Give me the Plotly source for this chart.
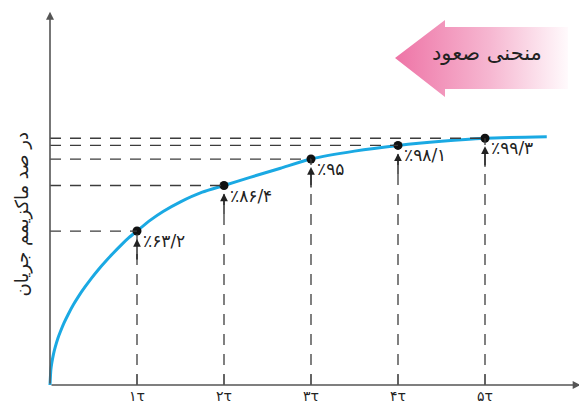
import plotly.graph_objects as go

# curve (t in units of tau, level in percent)
curve_t = [0, 0.01, 0.02, 0.04, 0.06, 0.09, 0.12, 0.16, 0.21, 0.27, 0.33, 0.4,
           0.48, 0.56, 0.63, 0.72, 0.82, 0.91, 1.0, 1.15, 1.3, 1.5, 1.75, 2.0,
           2.3, 2.65, 3.0, 3.5, 4.0, 4.5, 5.0, 5.71]
curve_y = [0, 6.2, 8.8, 12.5, 15.3, 18.8, 21.6, 25.0, 28.6, 32.5, 35.9, 39.5,
           43.3, 46.8, 49.6, 53.0, 56.6, 59.6, 62.2, 66.5, 70.1, 74.0, 77.9, 80.6,
           83.9, 87.6, 91.3, 94.5, 96.8, 98.5, 99.7, 100.3]

# marked points
tau_t = [1, 2, 3, 4, 5]
tau_level = [62.2, 80.6, 91.3, 96.8, 99.7]
pct_labels = ["٪۶۳/۲", "٪۸۶/۴", "٪۹۵", "٪۹۸/۱", "٪۹۹/۳"]
tick_labels = ["۱τ", "۲τ", "۳τ", "۴τ", "۵τ"]

y_title = "در صد ماکزیمم جریان"
banner_text = "منحنی صعود"

FONT = "DejaVu Sans"
AXIS = "#555555"
DASH = "#3c3c3c"
OFF = 8  # page body margin

fig = go.Figure()

# pink banner arrow, drawn on a pixel overlay axis pair
arrow_x = [395, 445, 445, 568, 568, 445, 445, 395]
arrow_y = [58, 20, 27, 27, 89, 89, 97, 58]
fig.add_trace(go.Scatter(
    x=arrow_x, y=arrow_y, xaxis="x2", yaxis="y2", mode="lines",
    fill="toself", line=dict(width=0),
    fillgradient=dict(type="horizontal",
                      colorscale=[[0, "#ee74a6"], [0.55, "#f6b7d1"], [1, "#fffafc"]]),
    hoverinfo="skip", showlegend=False))

# the curve
fig.add_trace(go.Scatter(
    x=curve_t, y=curve_y, mode="lines",
    line=dict(color="#1aa9e3", width=3, shape="spline", smoothing=0.6),
    hoverinfo="skip", showlegend=False))

# dashed guides
for t, v in zip(tau_t, tau_level):
    fig.add_shape(type="line", x0=0, x1=t, y0=v, y1=v,
                  line=dict(color=DASH, width=1.3, dash="11px,9px"))
    fig.add_shape(type="line", x0=t, x1=t, y0=0, y1=v,
                  line=dict(color=DASH, width=1.3, dash="11px,9px"))
    # tick on x axis
    fig.add_shape(type="line", x0=t, x1=t, y0=0, y1=4.3,
                  line=dict(color=AXIS, width=1.3))
    # short solid arrow up to the point
    fig.add_annotation(x=t, y=v, ax=0, ay=30, text="", showarrow=True,
                       arrowhead=2, arrowsize=1.1, arrowwidth=1.4,
                       arrowcolor="#222222", standoff=8)

# points
fig.add_trace(go.Scatter(
    x=tau_t, y=tau_level, mode="markers",
    marker=dict(color="#111111", size=9),
    hoverinfo="skip", showlegend=False))

for t, v, lab in zip(tau_t, tau_level, pct_labels):
    fig.add_annotation(x=t, y=v, text=lab, showarrow=False, xanchor="left",
                       yanchor="middle", xshift=4, yshift=-10,
                       font=dict(family=FONT, size=17, color="#222222"))

for t, lab in zip(tau_t, tick_labels):
    fig.add_annotation(x=t, y=0, text=lab, showarrow=False, yanchor="top",
                       yshift=-1, font=dict(family=FONT, size=14, color="#222222"))

# axes with arrow heads
fig.add_annotation(x=0, y=150.8, ax=0, ay=0, axref="x", ayref="y",
                   text="", showarrow=True, arrowhead=2, arrowsize=1,
                   arrowwidth=1.6, arrowcolor=AXIS)
fig.add_annotation(x=6.1, y=0, ax=0, ay=0, axref="x", ayref="y",
                   text="", showarrow=True, arrowhead=2, arrowsize=1,
                   arrowwidth=1.6, arrowcolor=AXIS)
fig.add_annotation(x=(586 - 50) / 87, y=0, text="t", showarrow=False,
                   xanchor="right", yanchor="bottom", yshift=-2,
                   font=dict(family=FONT, size=12, color="#222222"))

fig.add_annotation(x=-0.32, y=69, text=y_title, textangle=-90, showarrow=False,
                   font=dict(family=FONT, size=18, color="#222222"))

fig.add_annotation(x=487, y=53, xref="x2", yref="y2", text=banner_text,
                   showarrow=False,
                   font=dict(family=FONT, size=21, color="#222222"))

fig.update_layout(
    width=587, height=405,
    margin=dict(l=0, r=0, t=0, b=0),
    paper_bgcolor="white", plot_bgcolor="white",
    xaxis=dict(range=[(OFF - 50) / 87, (587 + OFF - 50) / 87],
               visible=False, fixedrange=True),
    yaxis=dict(range=[(385 - 405 - OFF) / 2.475, (385 - OFF) / 2.475],
               visible=False, fixedrange=True),
    xaxis2=dict(range=[OFF, 587 + OFF], overlaying="x", visible=False),
    yaxis2=dict(range=[405 + OFF, OFF], overlaying="y", visible=False),
)

fig.write_html("out.html")
